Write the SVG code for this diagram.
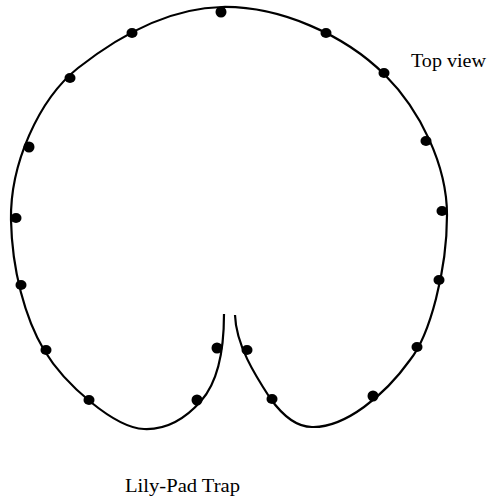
<svg xmlns="http://www.w3.org/2000/svg" width="488" height="504" viewBox="0 0 488 504">
<style>
.outline{fill:none;stroke:#000;stroke-width:2.2;stroke-linecap:butt}
.dot{fill:#000}
.lbl{font-family:"Liberation Serif","Times New Roman",serif;font-size:18px;fill:#000}
</style>
<rect width="488" height="504" fill="#fff"/>
<g id="pad">
<path class="outline" d="M224,314 C224,350 218,382 201,401 C186,418 167,430 144,429 C115,428 65,385 44,350 C25,318 12,270 11,220 C10,165 38,100 78,68 C120,35 170,8 222,7 C280,6 345,35 385,75 C420,110 447,165 447,215 C447,270 430,335 410,360 C385,395 345,428 312,427 C295,427 280,412 270,398 C255,375 236,345 235,315"/>
</g>
<g id="dots">
<ellipse class="dot" cx="221" cy="12" rx="5.5" ry="5.5"/>
<ellipse class="dot" cx="132" cy="33" rx="5.5" ry="5"/>
<ellipse class="dot" cx="70" cy="78" rx="5.5" ry="5"/>
<ellipse class="dot" cx="29" cy="147" rx="5.5" ry="5.5"/>
<ellipse class="dot" cx="16" cy="218" rx="5.5" ry="5"/>
<ellipse class="dot" cx="21" cy="285" rx="5.5" ry="5"/>
<ellipse class="dot" cx="46" cy="350" rx="5.5" ry="5"/>
<ellipse class="dot" cx="89" cy="400" rx="5.5" ry="5"/>
<ellipse class="dot" cx="197" cy="400" rx="5.5" ry="5.5"/>
<ellipse class="dot" cx="217" cy="348" rx="5.5" ry="5.5"/>
<ellipse class="dot" cx="247" cy="350" rx="5.5" ry="5"/>
<ellipse class="dot" cx="272" cy="399" rx="5.5" ry="5"/>
<ellipse class="dot" cx="373" cy="396" rx="5.5" ry="5.5"/>
<ellipse class="dot" cx="417" cy="347" rx="5.5" ry="5"/>
<ellipse class="dot" cx="439" cy="280" rx="5.5" ry="5"/>
<ellipse class="dot" cx="442" cy="211" rx="5.5" ry="5"/>
<ellipse class="dot" cx="426" cy="141" rx="5.5" ry="5"/>
<ellipse class="dot" cx="384" cy="73" rx="5.5" ry="5"/>
<ellipse class="dot" cx="326" cy="33" rx="5.5" ry="5"/>
</g>
<g id="labels">
<text class="lbl" x="411" y="67" textLength="75" lengthAdjust="spacingAndGlyphs">Top view</text>
<text class="lbl" x="125" y="492" textLength="115" lengthAdjust="spacingAndGlyphs">Lily-Pad Trap</text>
</g>
</svg>
